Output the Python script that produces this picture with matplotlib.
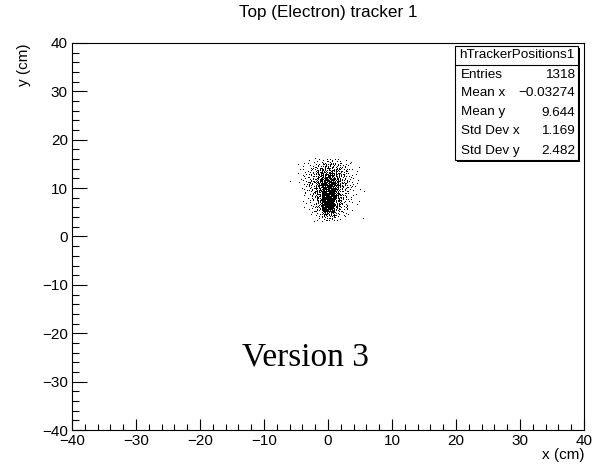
import numpy as np
import matplotlib.pyplot as plt
from matplotlib.patches import Rectangle
from matplotlib.ticker import MultipleLocator

plt.rcParams['font.family'] = ['Liberation Sans', 'DejaVu Sans']

# hit counts per 1 cm x 1 cm cell, rows from y=15..16 down to y=3..4
x_edges = [-6, -5, -4, -3, -2, -1, 0, 1, 2, 3, 4, 5, 6]
y_lows = [15, 14, 13, 12, 11, 10, 9, 8, 7, 6, 5, 4, 3]
hit_counts = [
    [0, 0, 1, 2, 3, 5, 6, 4, 2, 1, 0, 0],
    [0, 1, 2, 4, 7, 12, 13, 9, 5, 2, 1, 0],
    [0, 1, 3, 6, 13, 17, 18, 14, 7, 3, 1, 0],
    [0, 1, 4, 8, 16, 24, 26, 18, 9, 4, 1, 0],
    [1, 1, 4, 9, 19, 30, 32, 22, 10, 4, 1, 0],
    [0, 1, 4, 10, 21, 36, 38, 22, 11, 4, 2, 0],
    [0, 1, 3, 8, 18, 40, 42, 22, 9, 4, 1, 1],
    [0, 0, 2, 7, 16, 44, 46, 21, 8, 3, 1, 0],
    [0, 0, 2, 5, 14, 46, 48, 19, 7, 3, 1, 0],
    [0, 0, 1, 4, 12, 44, 46, 16, 6, 2, 1, 0],
    [0, 0, 1, 3, 9, 36, 38, 12, 4, 2, 0, 0],
    [0, 0, 0, 2, 5, 20, 22, 7, 3, 1, 0, 0],
    [0, 0, 0, 1, 2, 7, 8, 3, 1, 0, 0, 1],
]

hist_name = "hTrackerPositions1"
stat_labels = ["Entries", "Mean x", "Mean y", "Std Dev x", "Std Dev y"]
stat_values = ["1318", "\u22120.03274", "9.644", "1.169", "2.482"]

# spread each cell's hits over the cell with an R2 low-discrepancy sequence
g = 1.32471795724474602596
a1, a2 = 1.0 / g, 1.0 / g ** 2
xs, ys = [], []
k = 0
for row, y_lo in enumerate(y_lows):
    for col, n in enumerate(hit_counts[row]):
        x_lo, x_hi = x_edges[col], x_edges[col + 1]
        for i in range(n):
            k += 1
            u = (0.5 + a1 * k) % 1.0
            v = (0.5 + a2 * k) % 1.0
            xs.append(x_lo + u * (x_hi - x_lo))
            ys.append(y_lo + v)

W, H = 602, 465
fig = plt.figure(figsize=(W / 100, H / 100), dpi=100)
ax = fig.add_axes([72 / W, 1 - 430 / H, (584 - 72) / W, (430 - 43) / H])

ax.plot(xs, ys, ',', color='black')

ax.set_xlim(-40, 40)
ax.set_ylim(-40, 40)
ax.xaxis.set_major_locator(MultipleLocator(10))
ax.xaxis.set_minor_locator(MultipleLocator(2))
ax.yaxis.set_major_locator(MultipleLocator(10))
ax.yaxis.set_minor_locator(MultipleLocator(2))
ax.tick_params(axis='both', which='both', direction='in', top=False, right=False,
               labelsize=11, width=0.8)
ax.tick_params(axis='x', which='major', length=8, pad=3)
ax.tick_params(axis='x', which='minor', length=4)
ax.tick_params(axis='y', which='major', length=10.5, pad=3)
ax.tick_params(axis='y', which='minor', length=5)
for sp in ax.spines.values():
    sp.set_linewidth(0.8)

fig.text(72 / W + (584 - 72) / W / 2, 1 - 13 / H, "Top (Electron) tracker 1",
         ha='center', va='center', fontsize=12.3)
fig.text(584 / W, 1 - 455 / H, "x (cm)", ha='right', va='center', fontsize=11)
fig.text(24 / W, 1 - 43 / H, "y (cm)", ha='center', va='top', rotation=90, fontsize=11)

fig.text(305 / W, 1 - 365 / H, "Version 3", ha='center', va='baseline',
         fontsize=24, family='Liberation Serif')

# statistics box
bx0, bx1, by0, by1 = 455, 578, 46, 160
fig.patches.append(Rectangle(((bx0 + 2) / W, 1 - (by1 + 2) / H), (bx1 - bx0) / W,
                             (by1 - by0) / H, transform=fig.transFigure,
                             facecolor='black', edgecolor='none'))
fig.patches.append(Rectangle((bx0 / W, 1 - by1 / H), (bx1 - bx0) / W, (by1 - by0) / H,
                             transform=fig.transFigure, facecolor='white',
                             edgecolor='black', linewidth=0.8))
head_h = 19
fig.add_artist(plt.Line2D([bx0 / W, bx1 / W], [1 - (by0 + head_h) / H] * 2,
                          color='black', linewidth=0.8))
fig.text((bx0 + bx1) / 2 / W, 1 - (by0 + head_h / 2) / H, hist_name,
         ha='center', va='center', fontsize=9.7)
row_h = (by1 - by0 - head_h) / len(stat_labels)
for i, (lab, val) in enumerate(zip(stat_labels, stat_values)):
    yc = 1 - (by0 + head_h + row_h * (i + 0.5)) / H
    fig.text((bx0 + 6) / W, yc, lab, ha='left', va='center', fontsize=9.7)
    fig.text((bx1 - 3) / W, yc, val, ha='right', va='center', fontsize=9.7)

fig.savefig('out.png', dpi=100)
